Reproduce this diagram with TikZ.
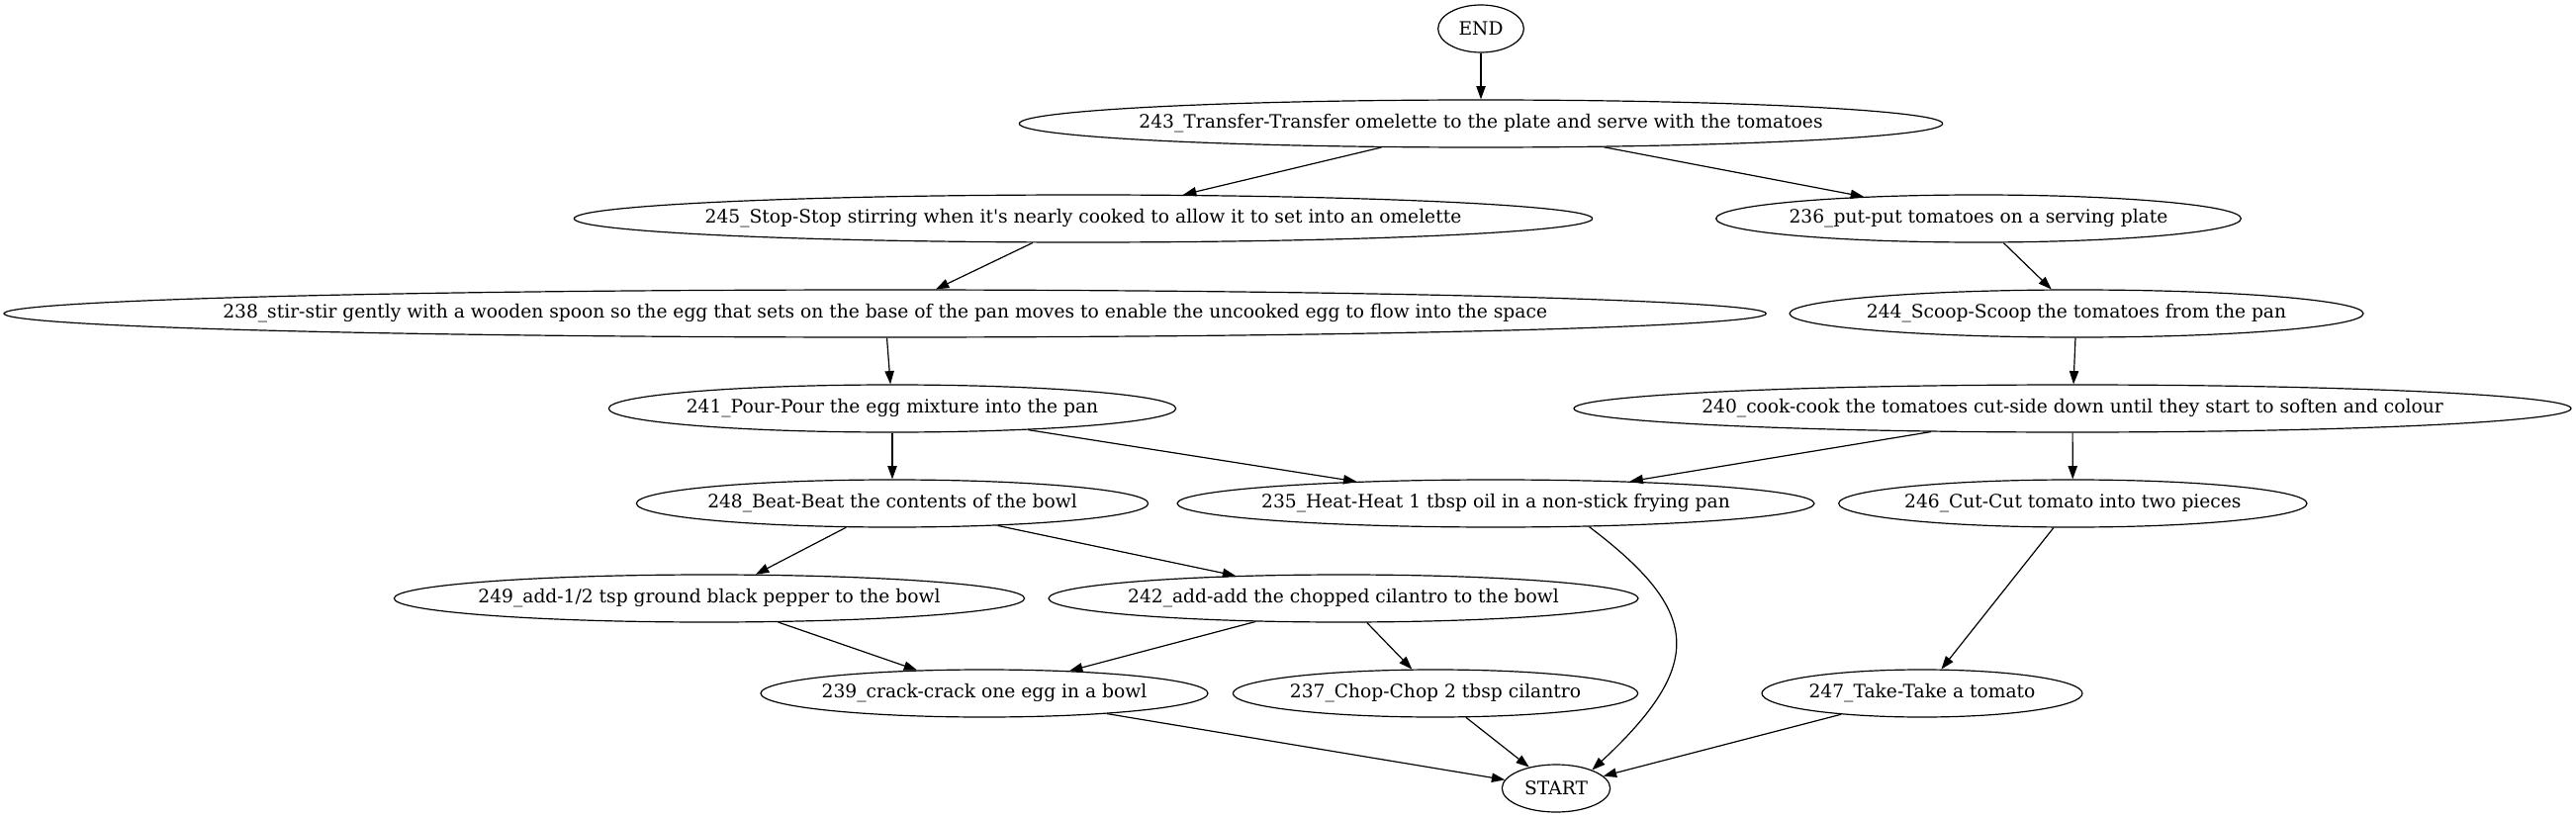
\documentclass[tikz,border=0pt]{standalone}
\usepackage{fontspec}
\setmainfont{DejaVu Serif}
\usetikzlibrary{arrows.meta,shapes.geometric}

\begin{document}
\begin{tikzpicture}[x=1pt,y=-1pt,line width=0.9pt,>={Triangle[length=10pt,width=7pt]},
  task/.style={shape=ellipse,draw,inner sep=0pt,minimum height=36pt,minimum width=#1,
               font=\fontsize{14pt}{16.8pt}\selectfont,
               execute at begin node={\hbox to 0pt\bgroup\hss},
               execute at end node={\hss\egroup}}]
\useasboundingbox (0,0) rectangle (1953,620.25);
\node   (END) at (1122.75, 21.75) [task=65pt] {END};
\node   (243) at (1122.75, 93.75) [task=700pt] {243\_Transfer-Transfer omelette to the plate and serve with the tomatoes};
\node   (245) at (821.25, 165.75) [task=772pt] {245\_Stop-Stop stirring when it\textquotesingle s nearly cooked to allow it to set into an omelette};
\node   (236) at (1500, 165.75)   [task=398pt] {236\_put-put tomatoes on a serving plate};
\node   (238) at (671, 237.75)    [task=1336pt] {238\_stir-stir gently with a wooden spoon so the egg that sets on the base of the pan moves to enable the uncooked egg to flow into the space};
\node   (244) at (1574.25, 237.75) [task=435pt] {244\_Scoop-Scoop the tomatoes from the pan};
\node   (241) at (676.5, 309.75)  [task=430pt] {241\_Pour-Pour the egg mixture into the pan};
\node   (240) at (1571.25, 309.75) [task=756pt] {240\_cook-cook the tomatoes cut-side down until they start to soften and colour};
\node   (248) at (676.5, 381.75)  [task=388pt] {248\_Beat-Beat the contents of the bowl};
\node   (235) at (1134, 381.75)   [task=483pt] {235\_Heat-Heat 1 tbsp oil in a non-stick frying pan};
\node   (246) at (1571.5, 381.75) [task=355pt] {246\_Cut-Cut tomato into two pieces};
\node   (249) at (537.75, 453.75) [task=478pt] {249\_add-1/2 tsp ground black pepper to the bowl};
\node   (242) at (1018.5, 453.75) [task=447pt] {242\_add-add the chopped cilantro to the bowl};
\node   (239) at (746.25, 525.75) [task=339pt] {239\_crack-crack one egg in a bowl};
\node   (237) at (1088.25, 525.75) [task=307pt] {237\_Chop-Chop 2 tbsp cilantro};
\node   (247) at (1457.25, 525.75) [task=243pt] {247\_Take-Take a tomato};
\node (START) at (1179.75, 597.75) [task=82pt] {START};
\draw [->] (END) -- (243);
\draw [->] (243) -- (245);
\draw [->] (243) -- (236);
\draw [->] (245) -- (238);
\draw [->] (236) -- (244);
\draw [->] (238) -- (241);
\draw [->] (244) -- (240);
\draw [->] (241) -- (248);
\draw [->] (241) -- (235);
\draw [->] (240) -- (235);
\draw [->] (240) -- (246);
\draw [->] (248) -- (249);
\draw [->] (248) -- (242);
\draw [->] (249) -- (239);
\draw [->] (242) -- (239);
\draw [->] (242) -- (237);
\draw [->] (246) -- (247);
\draw [->] (239) -- (START);
\draw [->] (237) -- (START);
\draw [->] (247) -- (START);
\draw [->] (235.-14) .. controls (1289,463) and (1294,503) .. (START.27);
\end{tikzpicture}
\end{document}
